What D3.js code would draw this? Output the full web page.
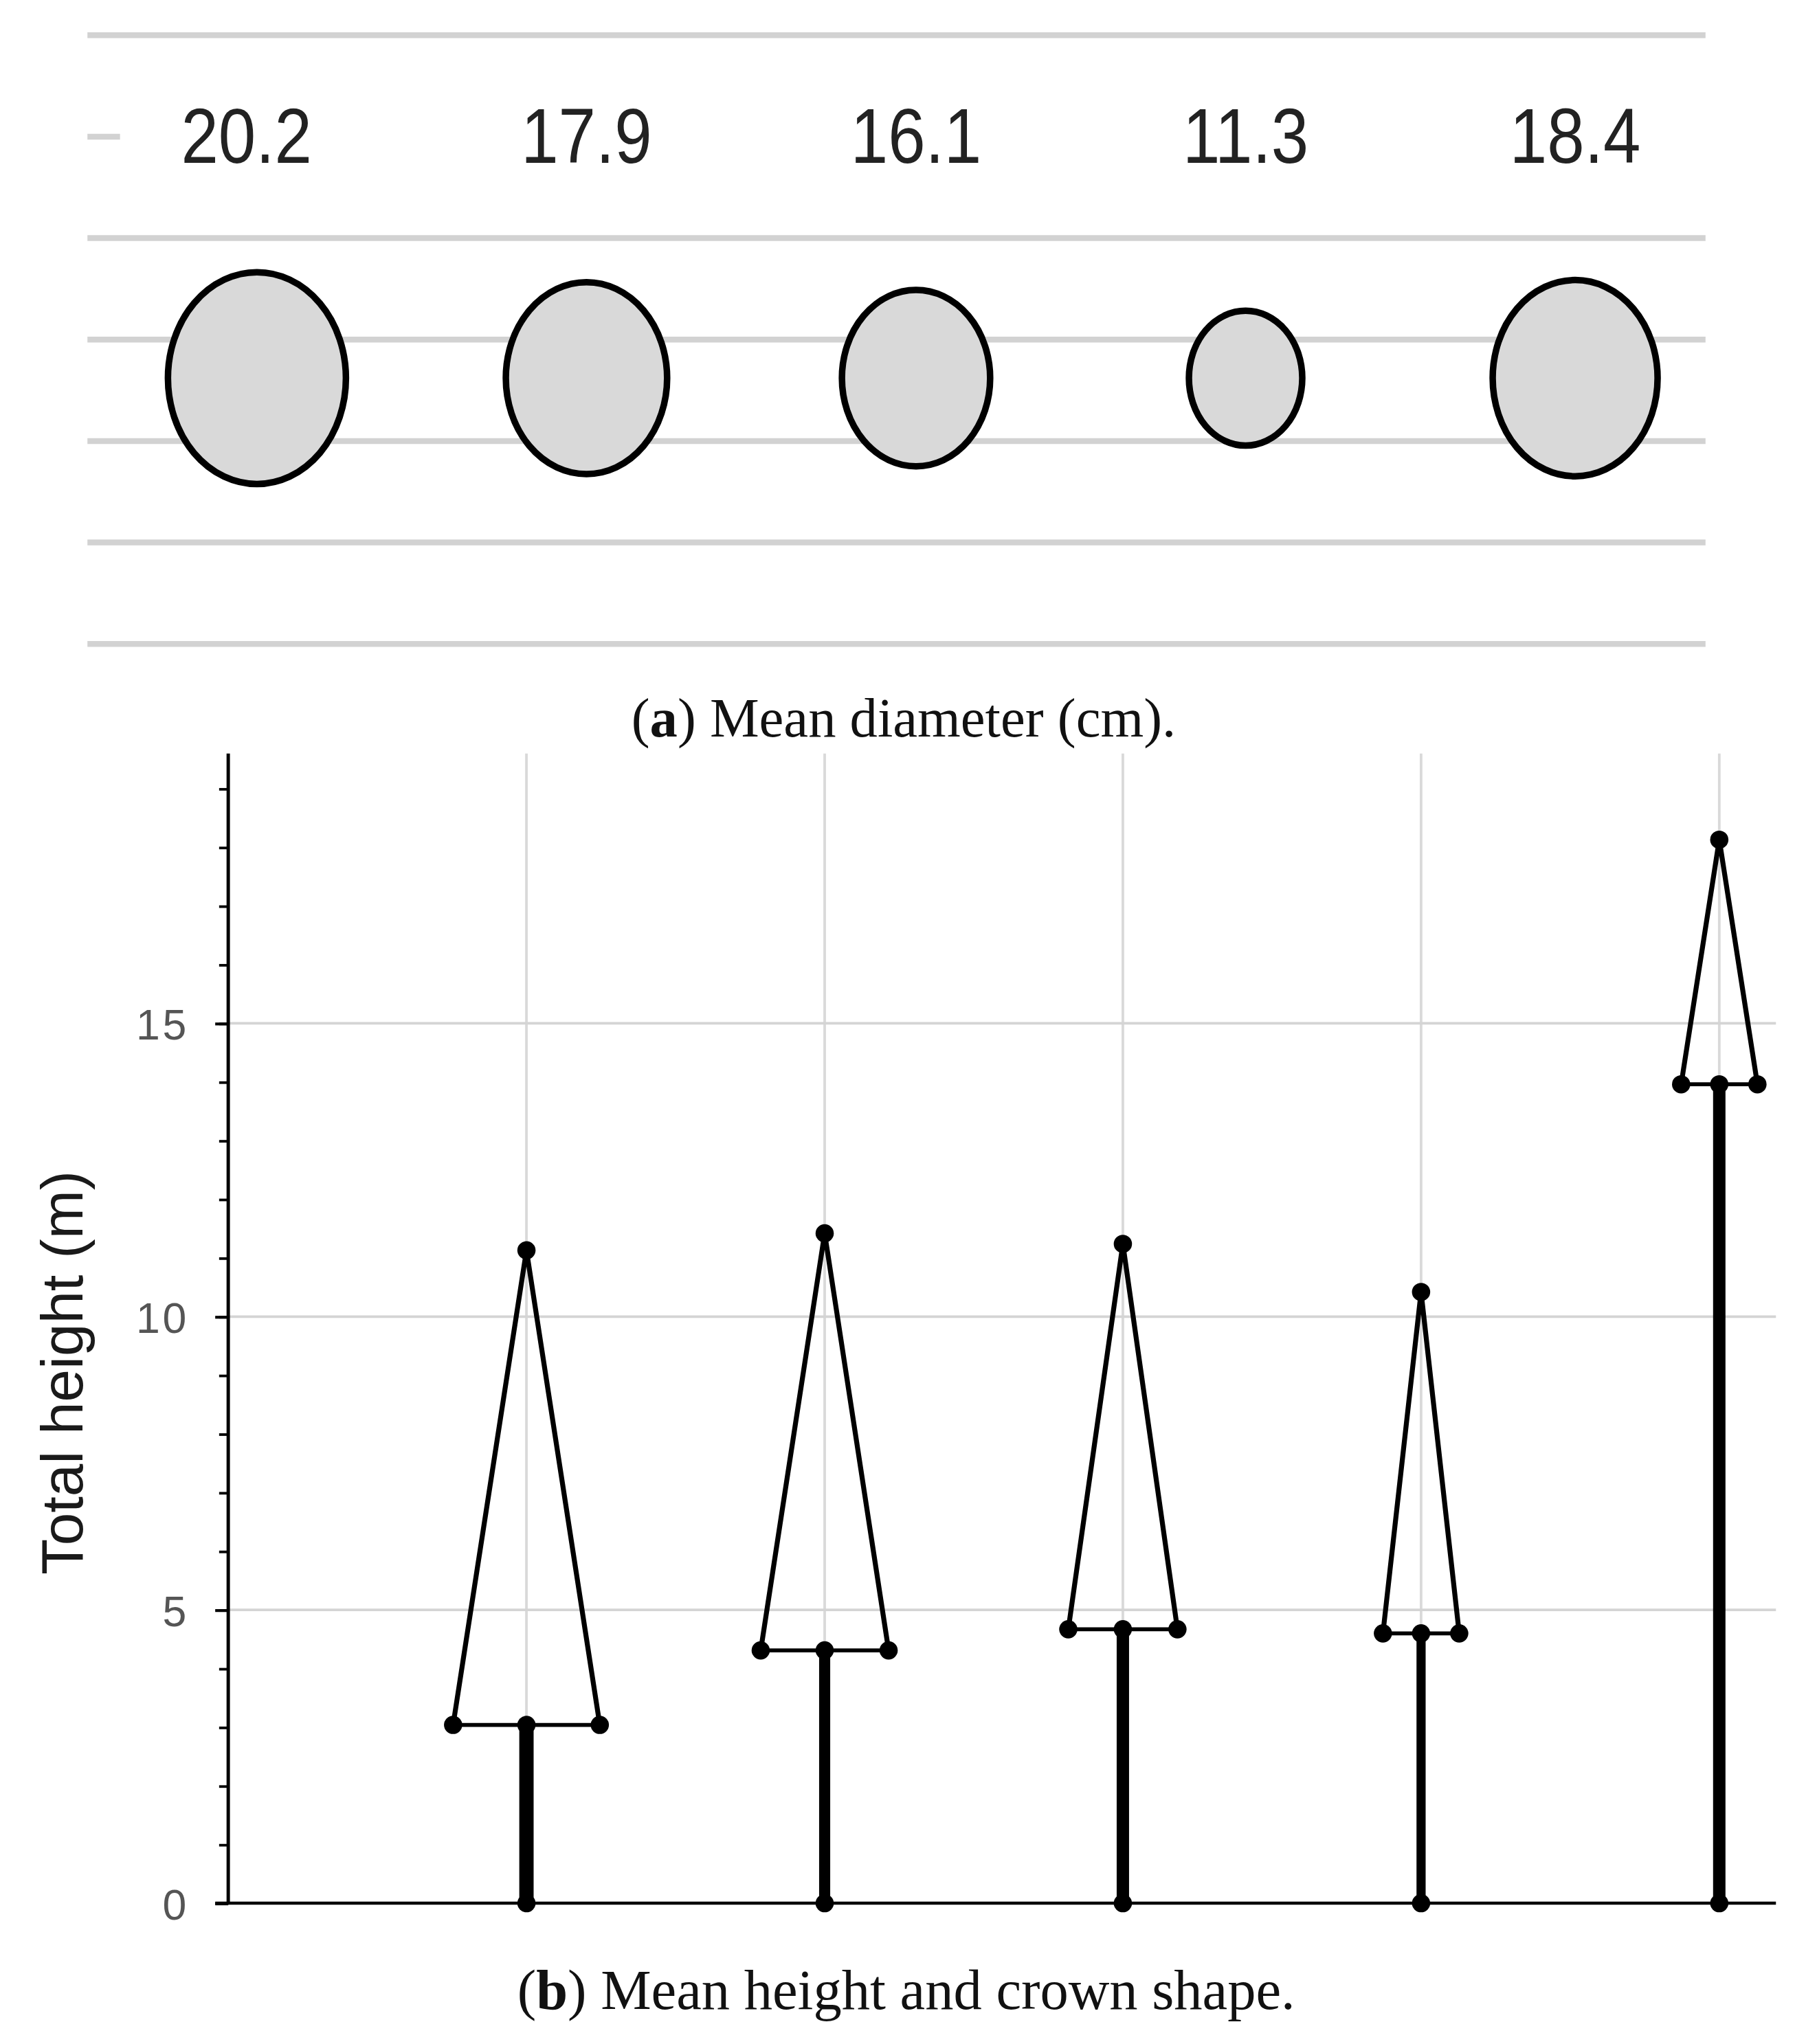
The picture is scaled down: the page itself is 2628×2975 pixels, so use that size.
<!DOCTYPE html>
<html lang="en">
<head>
  <meta charset="UTF-8" />
  <title>Mean diameter, height and crown shape</title>
  <script src="https://d3js.org/d3.v7.min.js"></script>
  <style>
    body { margin: 0; background: white; }
    svg { display: block; }
    .caption { font-family: "Liberation Serif", "DejaVu Serif", serif; fill: #111; }
    .dlabel { font-family: "Liberation Sans", Arial, sans-serif; font-size: 60px; fill: #222; }
    .tick text { font-family: "Liberation Sans", Arial, sans-serif; font-size: 33px; fill: #555; letter-spacing: 2px; }
    .ytitle { font-family: "Liberation Sans", Arial, sans-serif; font-size: 45px; fill: #1a1a1a; }
  </style>
</head>
<body>
  <div id="chart"></div>
  <script>
    // --- data ---
    const plots = ["P1", "P2", "P3", "P4", "P5"];
    const meanDiameter = [20.2, 17.9, 16.1, 11.3, 18.4];        // cm
    const totalHeight = [11.13, 11.42, 11.24, 10.42, 18.13];    // m
    const crownBaseHeight = [3.04, 4.31, 4.67, 4.6, 13.96];     // m
    const crownDiameter = [2.5, 2.18, 1.86, 1.3, 1.3];          // m
    const trunkThickness = [11, 8.5, 9.5, 7, 9.5];              // relative stem weight
    const yTicks = [0, 5, 10, 15];

    // drawing is done in a 1385 x 1568 frame, scaled up to the window
    const W = 1385, H = 1568;
    const svg = d3.select("#chart").append("svg")
      .attr("width", 2628)
      .attr("height", 2975)
      .attr("viewBox", `0 0 ${W} ${H}`);

    // ================= (a) mean diameter =================
    const xa = d3.scaleLinear().domain([0, plots.length - 1]).range([197, 1208]);
    const ya = d3.scaleLinear().domain([0, 6]).range([494, 27]);
    const rx = d3.scaleLinear().domain([0, 20]).range([12, 67.7]);

    const gA = svg.append("g");

    gA.selectAll(".hgrid")
      .data(ya.ticks(6))
      .join("line")
      .attr("class", "hgrid")
      .attr("x1", 67).attr("x2", 1308)
      .attr("y1", d => ya(d)).attr("y2", d => ya(d))
      .attr("stroke", "#d2d2d2")
      .attr("stroke-width", 4.5);

    // white band behind the value labels hides that gridline
    gA.append("rect")
      .attr("x", 92).attr("y", ya(5.45))
      .attr("width", 1225).attr("height", ya(4.3) - ya(5.45))
      .attr("fill", "white");

    // labels are set in a condensed face, so squeeze them horizontally
    gA.selectAll(".dlabel")
      .data(meanDiameter)
      .join("text")
      .attr("class", "dlabel")
      .attr("transform", (d, i) => `translate(${xa(i) - (i === 0 ? 8 : 0)},${ya(4.74)}) scale(0.86,1)`)
      .attr("text-anchor", "middle")
      .text(d => d3.format(".1f")(d));

    gA.selectAll(".stem")
      .data(meanDiameter)
      .join("ellipse")
      .attr("class", "stem")
      .attr("cx", (d, i) => xa(i))
      .attr("cy", ya(2.62))
      .attr("rx", d => rx(d))
      .attr("ry", d => rx(d) * 1.19)
      .attr("fill", "#d9d9d9")
      .attr("stroke", "#000")
      .attr("stroke-width", 5);

    svg.append("text")
      .attr("class", "caption")
      .attr("x", 693).attr("y", 565)
      .attr("font-size", 42.5)
      .attr("text-anchor", "middle")
      .call(t => {
        t.append("tspan").text("(");
        t.append("tspan").attr("font-weight", "bold").text("a");
        t.append("tspan").text(") Mean diameter (cm).");
      });

    // ================= (b) height and crown shape =================
    const x = d3.scaleLinear().domain([0, 5.19]).range([175, 1362]);
    const y = d3.scaleLinear().domain([0, 19.6]).range([1460, 578]);
    const pxPerM = y(0) - y(1);
    const tw = d3.scaleLinear().domain([0, 10]).range([0, 10]);

    const gB = svg.append("g");

    // grid
    gB.selectAll(".vgrid")
      .data(plots)
      .join("line")
      .attr("class", "vgrid")
      .attr("x1", (d, i) => x(i + 1)).attr("x2", (d, i) => x(i + 1))
      .attr("y1", y(19.6)).attr("y2", y(0))
      .attr("stroke", "#d9d9d9")
      .attr("stroke-width", 2);

    gB.selectAll(".ygrid")
      .data(yTicks.filter(d => d > 0))
      .join("line")
      .attr("class", "ygrid")
      .attr("x1", x(0)).attr("x2", x(5.19))
      .attr("y1", d => y(d)).attr("y2", d => y(d))
      .attr("stroke", "#d4d4d4")
      .attr("stroke-width", 2);

    // minor ticks
    gB.append("g")
      .attr("transform", `translate(${x(0)},0)`)
      .call(d3.axisLeft(y).tickValues(d3.range(0, 20)).tickSize(7).tickFormat(""))
      .call(g => g.select(".domain").remove())
      .call(g => g.selectAll("line").attr("stroke", "#000").attr("stroke-width", 2));

    // major ticks and labels
    gB.append("g")
      .attr("transform", `translate(${x(0)},0)`)
      .call(d3.axisLeft(y).tickValues(yTicks).tickSize(10).tickPadding(20))
      .call(g => g.select(".domain").remove())
      .call(g => g.selectAll("line").attr("stroke", "#000").attr("stroke-width", 2.2))
      .call(g => g.selectAll("text").attr("dy", "0.36em"));

    // axis lines
    gB.append("line")
      .attr("x1", x(0)).attr("x2", x(0))
      .attr("y1", y(19.6)).attr("y2", y(0))
      .attr("stroke", "#000").attr("stroke-width", 2.6);
    gB.append("line")
      .attr("x1", x(0) - 10).attr("x2", x(5.19))
      .attr("y1", y(0)).attr("y2", y(0))
      .attr("stroke", "#000").attr("stroke-width", 2.4);

    gB.append("text")
      .attr("class", "ytitle")
      .attr("transform", `translate(63,${(y(0) + y(19.6)) / 2 + 34}) rotate(-90)`)
      .attr("text-anchor", "middle")
      .text("Total height (m)");

    // trees
    const trees = plots.map((p, i) => ({
      cx: x(i + 1),
      top: totalHeight[i],
      base: crownBaseHeight[i],
      half: crownDiameter[i] / 2 * pxPerM,
      trunk: trunkThickness[i]
    }));

    const tree = gB.selectAll(".tree")
      .data(trees)
      .join("g")
      .attr("class", "tree");

    tree.append("line")
      .attr("x1", d => d.cx).attr("x2", d => d.cx)
      .attr("y1", y(0)).attr("y2", d => y(d.base))
      .attr("stroke", "#000")
      .attr("stroke-width", d => tw(d.trunk));

    tree.append("path")
      .attr("d", d => d3.line()([
        [d.cx - d.half, y(d.base)],
        [d.cx, y(d.top)],
        [d.cx + d.half, y(d.base)]
      ]))
      .attr("fill", "none")
      .attr("stroke", "#000")
      .attr("stroke-width", 3.8)
      .attr("stroke-linejoin", "round");

    tree.append("line")
      .attr("x1", d => d.cx - d.half).attr("x2", d => d.cx + d.half)
      .attr("y1", d => y(d.base)).attr("y2", d => y(d.base))
      .attr("stroke", "#000")
      .attr("stroke-width", 3);

    tree.selectAll("circle")
      .data(d => [
        [d.cx, y(0)],
        [d.cx, y(d.base)],
        [d.cx - d.half, y(d.base)],
        [d.cx + d.half, y(d.base)],
        [d.cx, y(d.top)]
      ])
      .join("circle")
      .attr("cx", p => p[0])
      .attr("cy", p => p[1])
      .attr("r", 7)
      .attr("fill", "#000");

    svg.append("text")
      .attr("class", "caption")
      .attr("x", 695).attr("y", 1541)
      .attr("font-size", 43.5)
      .attr("text-anchor", "middle")
      .call(t => {
        t.append("tspan").text("(");
        t.append("tspan").attr("font-weight", "bold").text("b");
        t.append("tspan").text(") Mean height and crown shape.");
      });
  </script>
</body>
</html>
